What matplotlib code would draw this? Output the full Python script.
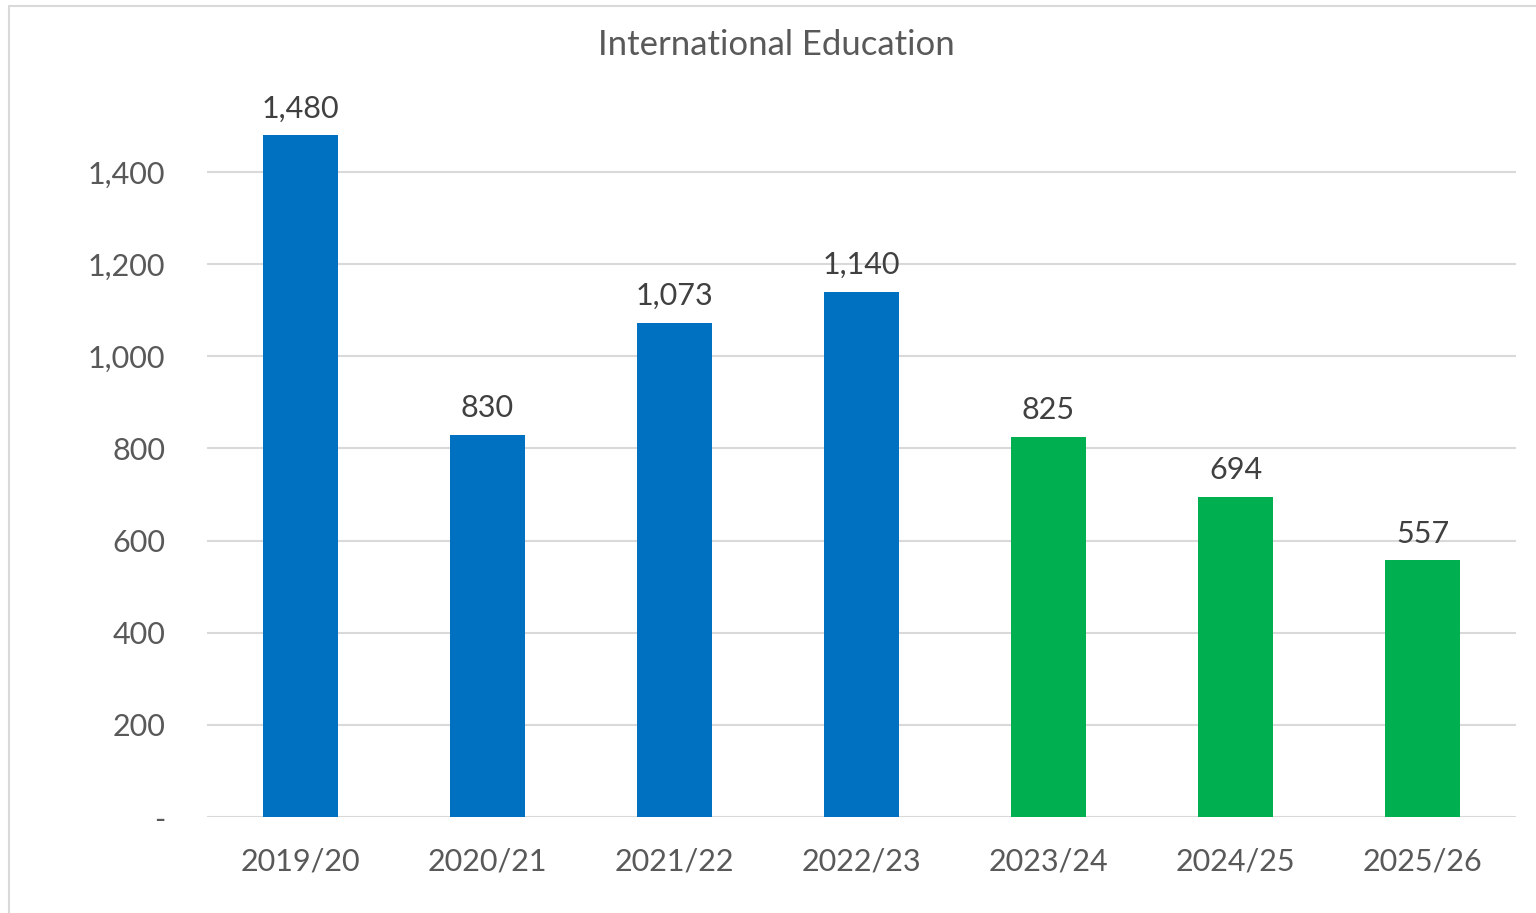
import matplotlib.pyplot as plt
from matplotlib.patches import Rectangle

# data
years = ["2019/20", "2020/21", "2021/22", "2022/23", "2023/24", "2024/25", "2025/26"]
values = [1480, 830, 1073, 1140, 825, 694, 557]
colors = ["#0070C0"] * 4 + ["#00B050"] * 3
yticks = [0, 200, 400, 600, 800, 1000, 1200, 1400]

plt.rcParams['font.family'] = ['Lato', 'DejaVu Sans']

fig = plt.figure(figsize=(15.36, 9.13), dpi=100)
ax = fig.add_axes([207 / 1536, 1 - 817 / 913, (1516 - 207) / 1536, (817 - 80) / 913])

x = range(len(years))
bars = ax.bar(x, values, width=0.405, color=colors, zorder=3)

for b, v in zip(bars, values):
    ax.text(b.get_x() + b.get_width() / 2, v + 28, f"{v:,}", ha="center", va="bottom",
            fontsize=22, color="#404040")

ax.set_xlim(-0.5, len(years) - 0.5)
ax.set_ylim(0, 1600)
ax.set_yticks(yticks)
ax.set_yticklabels(["-" if t == 0 else f"{t:,}" for t in yticks])
ax.set_xticks(list(x))
ax.set_xticklabels(years)
ax.tick_params(axis="both", length=0, labelsize=22, labelcolor="#595959")
ax.tick_params(axis="y", pad=30)
ax.tick_params(axis="x", pad=22)
ax.grid(axis="y", color="#D9D9D9", linewidth=1.5, zorder=0)
for s in ax.spines.values():
    s.set_visible(False)

fig.text(776 / 1536, 1 - 45 / 913, "International Education", ha="center", va="center",
         fontsize=25, color="#595959")

# chart frame (cropped at right and bottom)
fig.patches.append(Rectangle((9 / 1536, -0.1), 1.2, 1.1 - 6 / 913, transform=fig.transFigure,
                             fill=False, edgecolor="#D9D9D9", linewidth=1.5))

fig.savefig("out.png", dpi=100)
